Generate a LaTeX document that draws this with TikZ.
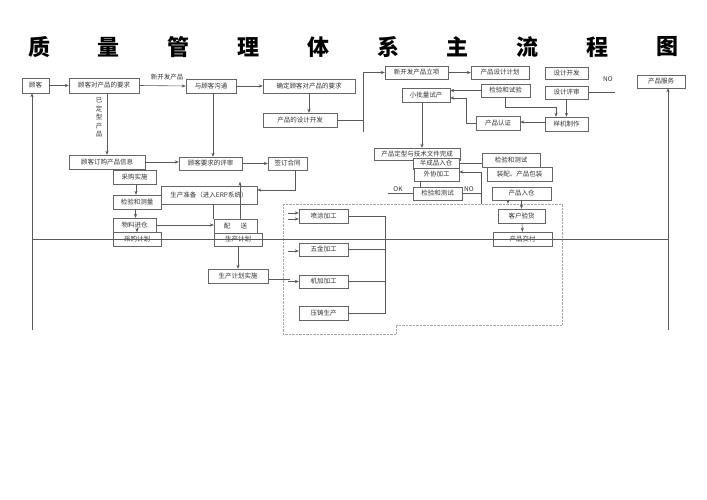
\documentclass[tikz,border=0pt]{standalone}
\usepackage{fontspec}
\newfontfamily\cjk{Noto Sans CJK SC}
\usetikzlibrary{arrows.meta}
\begin{document}
\begin{tikzpicture}[x=1pt, y=-1pt, >={Stealth[length=4pt,width=3.2pt]},
    box/.style={draw=black!60, fill=white, inner sep=0pt, text=black!80, font=\cjk\fontsize{6.5}{7}\selectfont},
    lbl/.style={inner sep=0pt, text=black!80, font=\cjk\fontsize{6.5}{7}\selectfont},
    ttl/.style={inner sep=0pt, font=\cjk\bfseries\fontsize{22}{24}\selectfont},
    line/.style={draw=black!65, line width=0.6pt}]
  \useasboundingbox (0,0) rectangle (707,500);

  % title
  \foreach \c [count=\i from 0] in {质,量,管,理,体,系,主,流,程,图}
    \node[ttl] (t\i) at (39+69.8*\i,47) {\c};

  % dotted area of the workshops
  \draw[black!35, densely dotted] (283,204) -- (562,204) -- (562,325) -- (396,325) -- (396,334) -- (283,334) -- cycle;

  % customer row
  \node[box, minimum width=27pt, minimum height=15pt] (gk) at (35.5,85.5) {顾客};
  \node[box, minimum width=70pt, minimum height=15pt] (gkyq) at (104,85.5) {顾客对产品的要求};
  \node[box, minimum width=50pt, minimum height=14pt] (gt) at (211,86) {与顾客沟通};
  \node[box, minimum width=92pt, minimum height=14pt] (qdyq) at (309,86) {确定顾客对产品的要求};
  \node[box, minimum width=74pt, minimum height=14pt] (sjkf) at (300,120) {产品的设计开发};
  \node[lbl] (xkf) at (167,77) {新开发产品};
  \node[lbl, align=center, font=\cjk\fontsize{6.5}{8.4}\selectfont] (ydx) at (99,117.5) {已\\定\\型\\产\\品};

  % new product development
  \node[box, minimum width=63pt, minimum height=13pt] (lx) at (416.5,72.5) {新开发产品立项};
  \node[box, minimum width=58pt, minimum height=13pt] (sjjh) at (500,72.5) {产品设计计划};
  \node[box, minimum width=43pt, minimum height=12pt] (skf) at (566.5,73) {设计开发};
  \node[box, minimum width=43pt, minimum height=13pt] (sjps) at (566.5,92.5) {设计评审};
  \node[box, minimum width=48pt, minimum height=14pt] (xpl) at (426,95) {小批量试产};
  \node[box, minimum width=49pt, minimum height=13pt] (jysy) at (505.5,90.5) {检验和试验};
  \node[box, minimum width=44pt, minimum height=14pt] (rz) at (498,123) {产品认证};
  \node[box, minimum width=43pt, minimum height=14pt] (yjzz) at (566.5,124) {样机制作};
  \node[box, minimum width=48pt, minimum height=13pt] (fw) at (661,81.5) {产品服务};
  \node[lbl] (no1) at (608,79) {NO};

  % order and purchase
  \node[box, minimum width=76pt, minimum height=14pt] (dg) at (107,162) {顾客订购产品信息};
  \node[box, minimum width=63pt, minimum height=13pt] (ps) at (210.5,163.5) {顾客要求的评审};
  \node[box, minimum width=39pt, minimum height=13pt] (ht) at (287.5,163.5) {签订合同};
  \node[box, minimum width=43pt, minimum height=14pt] (cgss) at (134.5,177) {采购实施};
  \node[box, minimum width=96pt, minimum height=18pt] (sczb) at (209,195) {生产准备（进入ERP系统）};
  \node[box, minimum width=48pt, minimum height=14pt] (jycl) at (137,202) {检验和测量};
  \node[box, minimum width=43pt, minimum height=14pt] (wljc) at (134.5,225) {物料进仓};
  \node[box, minimum width=48pt, minimum height=14pt] (cgjh) at (137,239) {采购计划};
  \node[box, minimum width=43pt, minimum height=14pt] (pei) at (235.5,226) {配\hspace{1.6em}送};
  \node[box, minimum width=48pt, minimum height=13pt] (scjh) at (238,239.5) {生产计划};
  \node[box, minimum width=60pt, minimum height=14pt] (scss) at (238,276) {生产计划实施};

  % workshops
  \node[box, minimum width=49pt, minimum height=14pt] (pt) at (323.5,216) {喷涂加工};
  \node[box, minimum width=49pt, minimum height=13pt] (wj) at (323.5,249.5) {五金加工};
  \node[box, minimum width=49pt, minimum height=13pt] (jj) at (323.5,281.5) {机加加工};
  \node[box, minimum width=49pt, minimum height=14pt] (yz) at (323.5,313) {压铸生产};

  % finishing and delivery
  \node[box, minimum width=86pt, minimum height=12pt] (dx) at (417,154) {产品定型与技术文件完成};
  \node[box, minimum width=46pt, minimum height=11pt] (bcp) at (436,163.5) {半成品入仓};
  \node[box, minimum width=45pt, minimum height=13pt] (wx) at (436.5,174.5) {外协加工};
  \node[box, minimum width=58pt, minimum height=14pt] (jyc1) at (511,160) {检验和测试};
  \node[box, minimum width=65pt, minimum height=14pt] (zp) at (519.5,174) {装配、产品包装};
  \node[box, minimum width=49pt, minimum height=13pt] (jyc2) at (437.5,193.5) {检验和测试};
  \node[box, minimum width=59pt, minimum height=13pt] (rc) at (521.5,193.5) {产品入仓};
  \node[box, minimum width=47pt, minimum height=14pt] (yh) at (521.5,216) {客户验货};
  \node[box, minimum width=59pt, minimum height=14pt] (jf) at (522.5,239) {产品交付};
  \node[lbl] (ok) at (398,189.5) {OK};
  \node[lbl] (no2) at (469,189.5) {NO};

  % helper points
  \coordinate (lb) at (32,330);
  \coordinate (rb) at (668,330);
  \coordinate (bj) at (363,132);
  \coordinate (brk) at (385,216);
  \coordinate (wxr) at (481,204);

  % connectors, first part
  \draw[line, ->] (gk) -- (gkyq);
  \draw[line, ->] (gkyq.east) -- (gt.west);
  \draw[line, ->] (gt) -- (qdyq);
  \draw[line, ->] (qdyq.south) -- (qdyq.south |- sjkf.north);
  \draw[line] (sjkf.east) -- (sjkf.east -| bj);
  \draw[line, ->] (bj) |- (lx.west);
  \draw[line, ->] (lx) -- (sjjh);
  \draw[line, ->] (jysy.west) -- (jysy.west -| xpl.east);
  \draw[line, ->] (jysy.south) -- ++(0,10) -| ([xshift=-10.5pt]yjzz.north);
  \draw[line, ->] (sjps.south) -- (yjzz.north);
  \draw[line, ->] ([yshift=2pt]yjzz.west) -- ([yshift=2pt]yjzz.west -| rz.east);
  \draw[line, ->] (rz.west) -- ++(-10,0) |- ([yshift=-3pt]xpl.east);
  \draw[line] (sjps.east) -- ++(27,0);
  \draw[line, ->] (lb) -- (lb |- gk.south);
  \draw[line, ->] (rb) -- (rb |- fw.south);

  % connectors, order and production
  \draw[line, ->] ([xshift=3pt]gkyq.south) -- (dg.north);
  \draw[line, ->] (dg.east) -- (dg.east -| ps.west);
  \draw[line, ->] ([xshift=2pt]gt.south) -- ([xshift=2pt]gt.south |- ps.north);
  \draw[line, ->] (ps) -- (ht);
  \draw[line, ->] ([xshift=7.5pt]ht.south) |- ([yshift=5pt]sczb.east);
  \draw[line, ->] ([xshift=1.5pt]cgss.south) -- ([xshift=1.5pt]cgss.south |- jycl.north);
  \draw[line, ->] ([xshift=-1.5pt]jycl.south) -- ([xshift=-1.5pt]jycl.south |- wljc.north);
  \draw[line, ->] ([xshift=2.5pt,yshift=-3pt]wljc.center) -- ([xshift=2.5pt]wljc.south);
  \draw[line, ->] (wljc.east) -- (wljc.east -| pei.west);
  \draw[line] ([xshift=4pt]sczb.south) -- ([xshift=4pt]sczb.south |- pei.north);
  \draw[line, ->] ([xshift=4.5pt]pei.north) -- ++(0,-37);
  \draw[line, ->] (scjh.south) -- (scss.north);
  \draw[line] ([yshift=-3pt]scss.east) -- ++(22,0);

  % connectors, workshops
  \draw[line, ->] ([xshift=-11pt,yshift=3pt]pt.west) -- ([yshift=3pt]pt.west);
  \draw[line, ->] ([xshift=-11pt,yshift=-3pt]pt.west) -- ([yshift=-3pt]pt.west);
  \draw[line, ->] ([xshift=-11pt,yshift=-1.5pt]wj.west) -- ([yshift=-1.5pt]wj.west);
  \draw[line, ->] ([xshift=-11pt]jj.west) -- (jj.west);
  \draw[line] (pt.east) -- (brk) -- (brk |- yz.east) -- (yz.east);
  \draw[line] (wj.east) -- (wj.east -| brk);
  \draw[line] (jj.east) -- (jj.east -| brk);

  % connectors, finishing and delivery
  \draw[line, ->] ([xshift=-4pt]xpl.south) -- ([xshift=-4pt]xpl.south |- dx.north);
  \draw[line] (bcp.east) -- (bcp.east -| jyc1.west);
  \draw[line, ->] (wxr) |- ([yshift=2.5pt]wx.east);
  \draw[line] ([xshift=-16.5pt]wx.south) -- ([xshift=-16.5pt]wx.south |- jyc2.north);
  \draw[line] (jyc2.west) -- ++(-25,0);
  \draw[line] (jyc2.east) -- (jyc2.east -| wxr);
  \draw[line, ->] ([xshift=-13.5pt]rc.south) -- ++(0,3.5);
  \draw[line, ->] (rc.south) -- (yh.north);
  \draw[line, ->] ([xshift=0.5pt]yh.south) -- (jf.north);

  % long line across the page
  \draw[line] (lb |- jf) -- (rb |- jf);
\end{tikzpicture}
\end{document}
